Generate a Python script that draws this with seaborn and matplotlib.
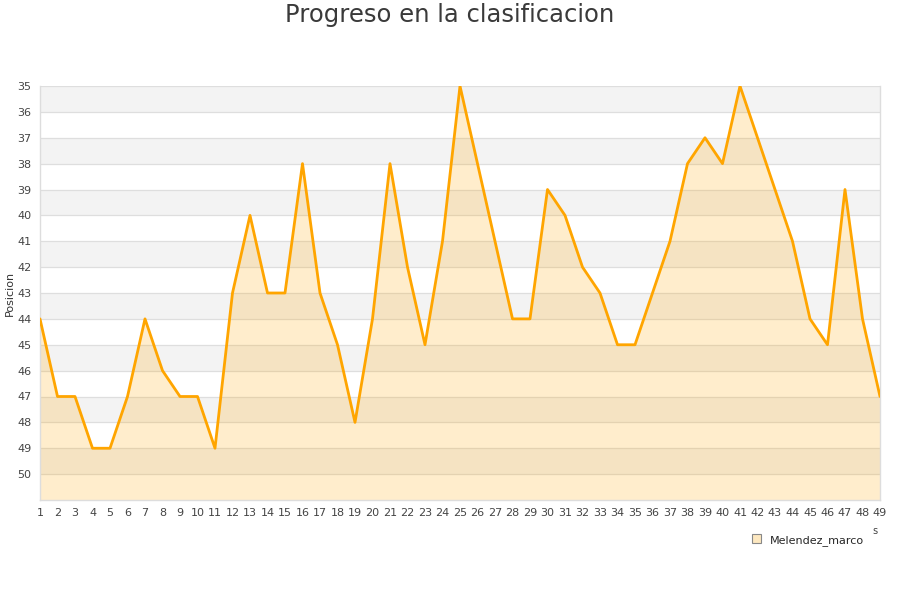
import matplotlib
matplotlib.use("Agg")
import matplotlib.pyplot as plt
import seaborn as sns
import pandas as pd
import numpy as np

jornadas = list(range(1, 50))
posiciones = [44, 47, 47, 49, 49, 47, 44, 46, 47, 47,
              49, 43, 40, 43, 43, 38, 43, 45, 48, 44,
              38, 42, 45, 41, 35, 38, 41, 44, 44, 39,
              40, 42, 43, 45, 45, 43, 41, 38, 37, 38,
              35, 37, 39, 41, 44, 45, 39, 44, 47]
y_ticks = list(range(35, 51))
titulo = "Progreso en la clasificacion"
serie = "Melendez_marco"

df = pd.DataFrame({"Jornada": jornadas, "Posicion": posiciones})

sns.set_theme(style="white")
plt.rcParams['font.family'] = ['DejaVu Sans']

fig = plt.figure(figsize=(9, 6), dpi=100)
ax = fig.add_axes([40/900, 100/600, 840/900, 414/600])

ymin, ymax = 35, 51
# alternating bands
for i, v in enumerate(range(ymin, ymax)):
    if i % 2 == 0:
        ax.axhspan(v, v + 1, color="#f3f3f3", zorder=0, lw=0)
for v in range(ymin, ymax):
    ax.axhline(v, color="#dedede", lw=0.9, zorder=1)

ax.fill_between(df["Jornada"], df["Posicion"], ymax, color="#FFA500", alpha=0.2, lw=0, zorder=2)
sns.lineplot(data=df, x="Jornada", y="Posicion", ax=ax, color="#FFA500", lw=2.0, zorder=3, legend=False)

ax.set_xlim(1, 49)
ax.set_ylim(ymax, ymin)
ax.set_xticks(jornadas)
ax.set_xticklabels([str(j) for j in jornadas], fontsize=8, color="#444444")
ax.set_yticks(y_ticks)
ax.set_yticklabels([str(t) for t in y_ticks], fontsize=8, color="#444444")
ax.tick_params(axis="both", length=0, pad=6)
ax.set_xlabel("")
ax.set_ylabel("Posicion", fontsize=8, color="#333333", labelpad=2)
for s in ax.spines.values():
    s.set_color("#dddddd")
    s.set_linewidth(1)
ax.spines["top"].set_visible(False)

fig.text(0.5, 1 - 15/600, titulo, ha="center", va="center", fontsize=17.5, color="#3a3a3a")
fig.text(875/900, 1 - 531/600, "s", ha="center", va="center", fontsize=7, color="#444444")

from matplotlib.patches import Patch
handle = Patch(facecolor="#fde8c0", edgecolor="#888888", lw=0.8)
fig.legend([handle], [serie], loc="center", bbox_to_anchor=(808/900, 1 - 540/600),
           frameon=False, fontsize=8, handlelength=0.8, handleheight=0.8, handletextpad=0.8)

fig.savefig("out.png", dpi=100)
